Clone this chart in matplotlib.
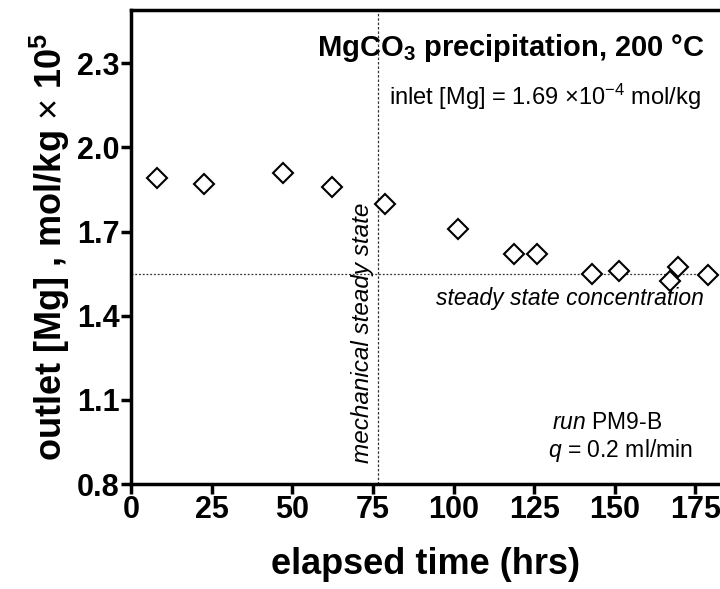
import numpy as np
import matplotlib
matplotlib.use("Agg")
import matplotlib.pyplot as plt

plt.rcParams['font.family'] = ['Liberation Sans', 'DejaVu Sans']
plt.rcParams['mathtext.fontset'] = 'custom'
plt.rcParams['mathtext.rm'] = 'Liberation Sans'
plt.rcParams['mathtext.it'] = 'Liberation Sans:italic'
plt.rcParams['mathtext.bf'] = 'Liberation Sans:bold'

# elapsed time (hrs) and outlet Mg (mol/kg x 1e5)
hours = [8.0, 22.6, 47.0, 62.2, 78.7, 101.5, 118.7, 125.9, 142.8, 151.4, 167.1, 169.7, 179.0]
outlet_mg = [1.89, 1.87, 1.91, 1.86, 1.80, 1.71, 1.62, 1.62, 1.55, 1.56, 1.525, 1.575, 1.545]

steady_conc = 1.55      # steady state concentration
mech_time = 76.6        # mechanical steady state reached

x_ticks = [0, 25, 50, 75, 100, 125, 150, 175]
y_ticks = [0.8, 1.1, 1.4, 1.7, 2.0, 2.3]

fig = plt.figure(figsize=(7.2, 5.89), dpi=100)
ax = fig.add_axes([0.182, 0.178, 0.818, 0.805])

ax.plot(hours, outlet_mg, linestyle='none', marker='D', markersize=10,
        markerfacecolor='white', markeredgecolor='black', markeredgewidth=1.5, clip_on=False, zorder=3)

ax.axhline(steady_conc, color='#333333', linestyle=(0, (1.5, 1.5)), linewidth=0.9)
ax.axvline(mech_time, color='#333333', linestyle=(0, (2, 1.5)), linewidth=0.9)

ax.set_xlim(0, 182.6)
ax.set_ylim(0.8, 2.49)
ax.set_xticks(x_ticks)
ax.set_yticks(y_ticks)
ax.set_yticklabels([f"{v:.1f}" for v in y_ticks])

for side in ['left', 'bottom', 'top']:
    ax.spines[side].set_linewidth(2.5)
ax.spines['right'].set_visible(False)
ax.tick_params(direction='out', length=7, width=2.5, labelsize=22, pad=1)
for lbl in ax.get_xticklabels() + ax.get_yticklabels():
    lbl.set_fontweight('bold')

ax.set_xlabel('elapsed time (hrs)', fontsize=26, fontweight='bold', labelpad=16)
ax.set_ylabel(r'outlet [Mg] , mol/kg $\times$ 10$^{\mathbf{5}}$', fontsize=26, fontweight='bold', labelpad=4)

ax.text(0.975, 0.92, r'MgCO$_{\mathbf{3}}$ precipitation, 200 °C', transform=ax.transAxes,
        ha='right', va='center', fontsize=21, fontweight='bold')
ax.text(0.968, 0.816, r'inlet [Mg] = 1.69 $\times$10$^{-4}$ mol/kg', transform=ax.transAxes,
        ha='right', va='center', fontsize=17)
ax.text(mech_time - 1.2, 1.34, 'mechanical steady state', rotation=90, ha='right', va='center',
        fontsize=17.5, style='italic')
ax.text(136, 1.46, 'steady state concentration', ha='center', va='center', fontsize=16.5, style='italic')
ax.text(147.6, 1.02, r'$\it{run}$ PM9-B', ha='center', va='center', fontsize=16.5)
ax.text(151.6, 0.92, r'$\it{q}$ = 0.2 ml/min', ha='center', va='center', fontsize=16.5)

fig.savefig('out.png', dpi=100)
